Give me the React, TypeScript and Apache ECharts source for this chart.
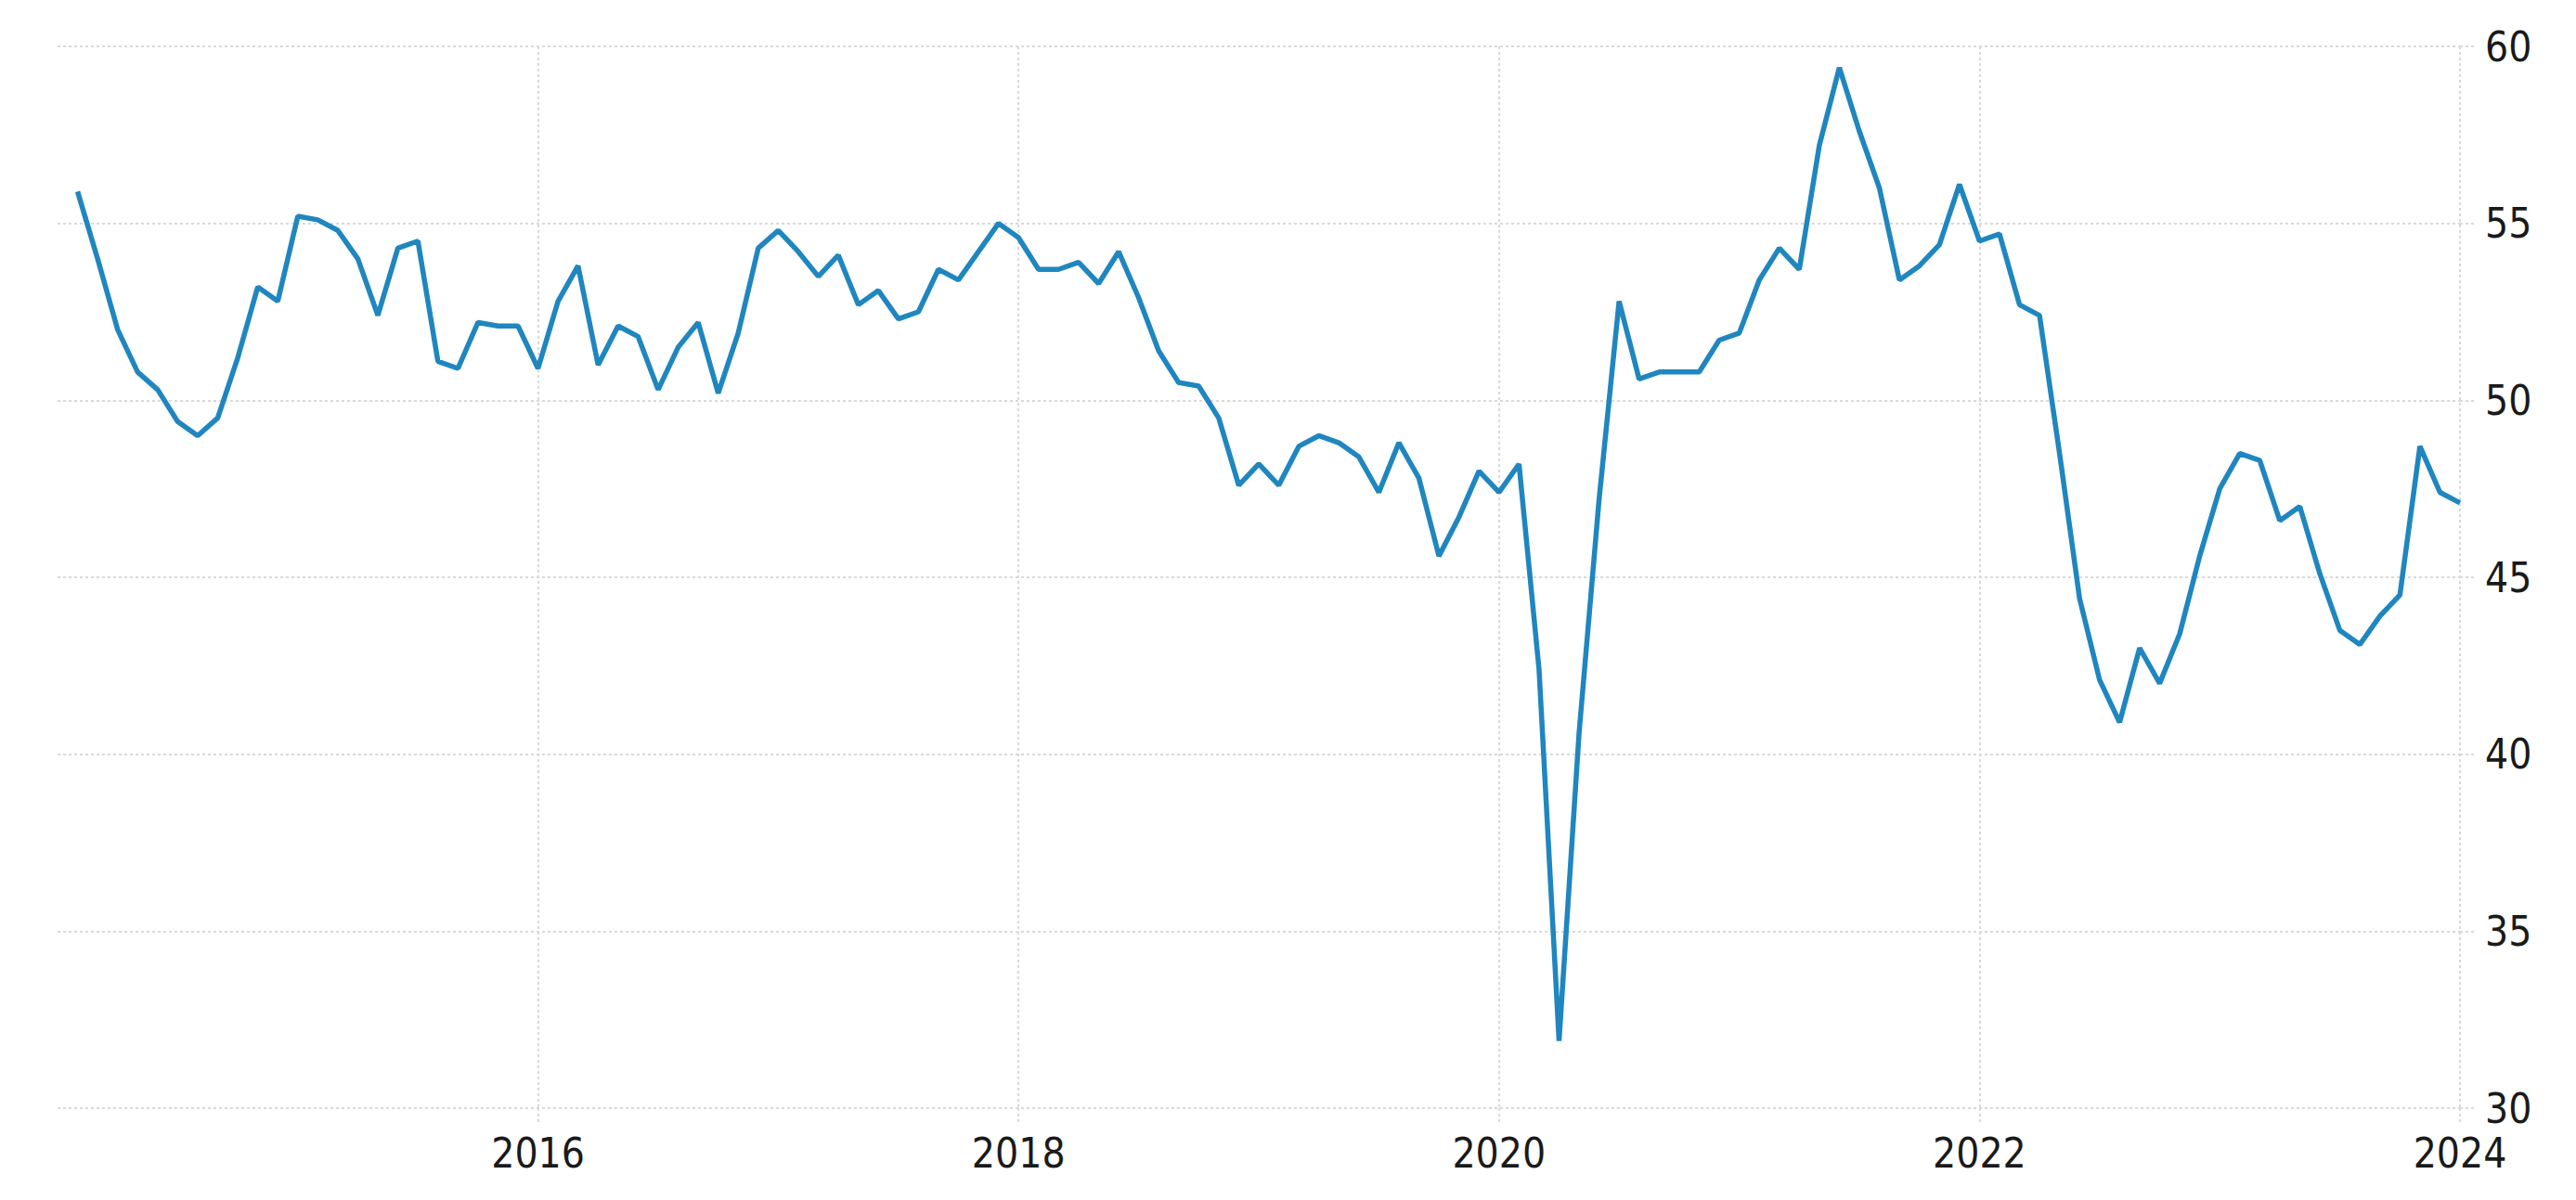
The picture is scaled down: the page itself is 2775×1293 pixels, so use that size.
import React, { useEffect, useRef } from "react";
import * as echarts from "echarts";

// Monthly index values, one array per year (2014 starts in February, 2024 holds January only)
const pmi2014 = [55.9, 54.0, 52.0, 50.8, 50.3, 49.4, 49.0, 49.5, 51.2, 53.2, 52.8];
const pmi2015 = [55.2, 55.1, 54.8, 54.0, 52.4, 54.3, 54.5, 51.1, 50.9, 52.2, 52.1, 52.1];
const pmi2016 = [50.9, 52.8, 53.8, 51.0, 52.1, 51.8, 50.3, 51.5, 52.2, 50.2, 51.9, 54.3];
const pmi2017 = [54.8, 54.2, 53.5, 54.1, 52.7, 53.1, 52.3, 52.5, 53.7, 53.4, 54.2, 55.0];
const pmi2018 = [54.6, 53.7, 53.7, 53.9, 53.3, 54.2, 52.9, 51.4, 50.5, 50.4, 49.5, 47.6];
const pmi2019 = [48.2, 47.6, 48.7, 49.0, 48.8, 48.4, 47.4, 48.8, 47.8, 45.6, 46.7, 48.0];
const pmi2020 = [47.4, 48.2, 42.4, 31.9, 40.6, 47.2, 52.8, 50.6, 50.8, 50.8, 50.8, 51.7];
const pmi2021 = [51.9, 53.4, 54.3, 53.7, 57.2, 59.4, 57.6, 56.0, 53.4, 53.8, 54.4, 56.1];
const pmi2022 = [54.5, 54.7, 52.7, 52.4, 48.5, 44.4, 42.1, 40.9, 43.0, 42.0, 43.4, 45.6];
const pmi2023 = [47.5, 48.5, 48.3, 46.6, 47.0, 45.1, 43.5, 43.1, 43.9, 44.5, 48.7, 47.4];
const pmi2024 = [47.1];

// [year, first month of the array, values]
const yearlySeries: [number, number, number[]][] = [
  [2014, 2, pmi2014],
  [2015, 1, pmi2015],
  [2016, 1, pmi2016],
  [2017, 1, pmi2017],
  [2018, 1, pmi2018],
  [2019, 1, pmi2019],
  [2020, 1, pmi2020],
  [2021, 1, pmi2021],
  [2022, 1, pmi2022],
  [2023, 1, pmi2023],
  [2024, 1, pmi2024],
];

const yTicks = [30, 35, 40, 45, 50, 55, 60];
const xTickYears = [2014, 2016, 2018, 2020, 2022, 2024];

const FONT = "'Liberation Sans Narrow', 'Arial Narrow', 'DejaVu Sans Condensed', 'Liberation Sans', sans-serif";

export default function App() {
  const ref = useRef<HTMLDivElement>(null);

  useEffect(() => {
    if (!ref.current) return;
    const chart = echarts.init(ref.current, undefined, { renderer: "svg" });

    const data: [number, number][] = [];
    yearlySeries.forEach(([year, startMonth, values]) => {
      values.forEach((v, i) => {
        data.push([year + (startMonth - 1 + i) / 12, v]);
      });
    });

    const gridDash = { color: "#d9d9d9", width: 2, type: [3, 3] as number[] };

    chart.setOption({
      animation: false,
      backgroundColor: "#ffffff",
      grid: { left: 62, right: 125, top: 50, bottom: 99, containLabel: false },
      xAxis: {
        type: "value",
        min: xTickYears[0],
        max: xTickYears[xTickYears.length - 1],
        interval: 2,
        axisLine: { show: false },
        axisTick: { show: true, length: 16, lineStyle: gridDash },
        splitLine: { show: true, showMinLine: false, lineStyle: gridDash },
        axisLabel: {
          showMinLabel: false,
          margin: 26,
          fontSize: 44,
          fontFamily: FONT,
          color: "#1a1a1a",
          formatter: (v: number) => String(Math.round(v)),
        },
      },
      yAxis: {
        type: "value",
        position: "right",
        min: yTicks[0],
        max: yTicks[yTicks.length - 1],
        interval: 5,
        axisLine: { show: false },
        axisTick: { show: true, length: 18, lineStyle: gridDash },
        splitLine: { show: true, lineStyle: gridDash },
        axisLabel: {
          margin: 27,
          fontSize: 44,
          fontFamily: FONT,
          color: "#1a1a1a",
        },
      },
      series: [
        {
          type: "line",
          data,
          showSymbol: false,
          symbol: "none",
          smooth: false,
          lineStyle: { color: "#1f86bf", width: 5.5 },
          z: 5,
        },
      ],
    });

    return () => chart.dispose();
  }, []);

  return (
    <div
      ref={ref}
      style={{ position: "fixed", left: 0, top: 0, width: 2775, height: 1293, background: "#fff" }}
    />
  );
}
